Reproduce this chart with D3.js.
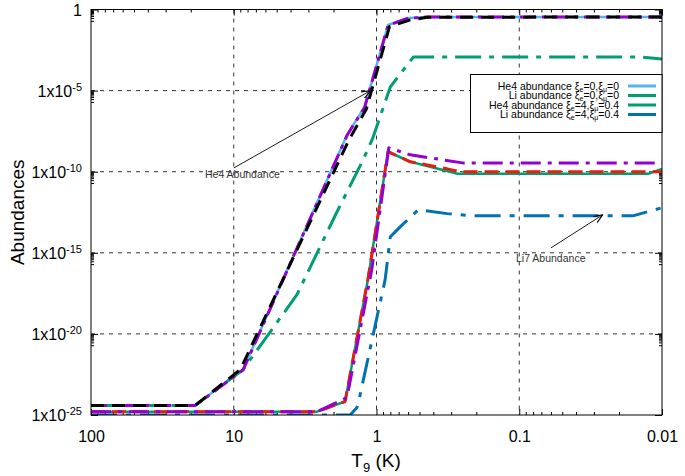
<!DOCTYPE html>
<html><head><meta charset="utf-8">
<script src="https://cdn.jsdelivr.net/npm/d3@7"></script>
<style>body{margin:0;background:#fff} text{font-family:"Liberation Sans",Arial,sans-serif}</style>
</head><body><svg id="c" width="685" height="476"></svg>
<script>
// ---- data (T9 in K, abundances) ----
const he4LightBlueT = [100, 18.7, 8.6, 1.61, 1.21, 0.83, 0.60, 0.44, 0.01];
const he4LightBlueA = [3.8e-25, 3.8e-25, 6.3e-23, 1.86e-8, 1.0e-6, 0.11, 0.30, 0.35, 0.35];
const he4BlackT = [100, 18.7, 9.0, 1.56, 1.18, 0.81, 0.58, 0.44, 0.01];
const he4BlackA = [3.8e-25, 3.8e-25, 6.3e-23, 9.0e-9, 7.0e-7, 0.09, 0.23, 0.33, 0.35];
const he4PurpleT = [100, 18.7, 8.6, 1.61, 1.21, 0.83, 0.60, 0.44, 0.01];
const he4PurpleA = [3.8e-25, 3.8e-25, 6.0e-23, 1.7e-8, 9.5e-7, 0.105, 0.29, 0.34, 0.35];
const he4GreenT = [100, 18.7, 8.6, 3.61, 1.89, 1.24, 1.06, 0.80, 0.61, 0.55, 0.0143, 0.01];
const he4GreenA = [3.8e-25, 3.8e-25, 6.3e-23, 2.6e-18, 3.4e-13, 5.4e-10, 1.23e-8, 1.7e-5, 3.8e-4, 1.2e-3, 1.2e-3, 8.9e-4];
const liGreenT = [100, 2.61, 1.66, 1.15, 0.83, 0.58, 0.27, 0.0125, 0.01];
const liGreenA = [1.6e-25, 1.6e-25, 6.8e-25, 2.2e-17, 1.7e-9, 4.1e-10, 7.4e-11, 7.4e-11, 1.5e-10];
const liRedT = [100, 2.61, 1.66, 1.15, 0.83, 0.58, 0.32, 0.26, 0.01];
const liRedA = [1.6e-25, 1.6e-25, 6.8e-25, 2.2e-17, 1.7e-9, 4.1e-10, 1.5e-10, 9.8e-11, 9.8e-11];
const liPurpleT = [100, 2.61, 1.61, 1.08, 0.82, 0.58, 0.25, 0.01];
const liPurpleA = [1.6e-25, 1.6e-25, 1.2e-24, 9e-17, 2.95e-9, 1.1e-9, 3.5e-10, 3.5e-10];
const liBlueT = [100, 1.53, 1.37, 1.31, 0.87, 0.80, 0.68, 0.51, 0.32, 0.21, 0.016, 0.01];
const liBlueA = [1.0e-25, 1.0e-25, 2.9e-25, 1.4e-24, 2.2e-17, 9.8e-15, 4.1e-14, 4.5e-13, 2.6e-13, 1.9e-13, 1.9e-13, 6.0e-13];

const xTickValues = [100, 10, 1, 0.1, 0.01];
const xTickLabels = ["100", "10", "1", "0.1", "0.01"];
const yTickValues = [1, 1e-5, 1e-10, 1e-15, 1e-20, 1e-25];
const yTickExponents = ["", "-5", "-10", "-15", "-20", "-25"];

const legendLabels = [
  ["He4 abundance ", "e", "=0,", "μ", "=0"],
  ["Li abundance ", "e", "=0,", "μ", "=0"],
  ["He4 abundance  ", "e", "=4,", "μ", "=0.4"],
  ["Li abundance ", "e", "=4,", "μ", "=0.4"]
];
const legendColors = ["#56b4e9", "#009e73", "#009e73", "#0072b2"];

// ---- layout ----
const L = 91, R = 662, T = 9.5, B = 415;
const svg = d3.select("#c");
const x = d3.scaleLog().domain([100, 0.01]).range([L, R]);
const y = d3.scaleLog().domain([1e-25, 1]).range([B, T]);

svg.append("defs").append("clipPath").attr("id", "clip")
  .append("rect").attr("x", L).attr("y", T).attr("width", R - L).attr("height", B - T);

// grid
const gridX = [10, 1, 0.1];
const gridY = [1e-5, 1e-10, 1e-15, 1e-20];
const grid = svg.append("g").attr("stroke", "#333").attr("stroke-width", 1).attr("stroke-dasharray", "4,5");
gridX.forEach(v => grid.append("line").attr("x1", x(v)).attr("x2", x(v)).attr("y1", T).attr("y2", B));
gridY.forEach(v => grid.append("line").attr("y1", y(v)).attr("y2", y(v)).attr("x1", L).attr("x2", R));

// minor ticks
const xMinor = [];
[10, 1, 0.1, 0.01].forEach(d => { for (let m = 2; m <= 9; m++) xMinor.push(d * m); });
const yMinor = [];
[1, 1e-5, 1e-10, 1e-15, 1e-20, 1e-25].forEach(d => { for (let m = 2; m <= 9; m++) if (d * m / 10 >= 1e-25) yMinor.push(d * m / 10); });

function styleAxis(g) {
  g.select(".domain").remove();
  g.selectAll("line").attr("stroke", "#000").attr("stroke-width", 1);
}
svg.append("g").attr("transform", `translate(0,${B})`)
  .call(d3.axisBottom(x).tickValues(xMinor).tickSize(-3).tickSizeOuter(0).tickFormat(""))
  .call(styleAxis);
svg.append("g").attr("transform", `translate(0,${T})`)
  .call(d3.axisTop(x).tickValues(xMinor).tickSize(-3).tickSizeOuter(0).tickFormat(""))
  .call(styleAxis);
svg.append("g").attr("transform", `translate(${L},0)`)
  .call(d3.axisLeft(y).tickValues(yMinor).tickSize(-3).tickSizeOuter(0).tickFormat(""))
  .call(styleAxis);
svg.append("g").attr("transform", `translate(${R},0)`)
  .call(d3.axisRight(y).tickValues(yMinor).tickSize(-3).tickSizeOuter(0).tickFormat(""))
  .call(styleAxis);

// major axes
const xAxisG = svg.append("g").attr("transform", `translate(0,${B})`)
  .call(d3.axisBottom(x).tickValues(xTickValues).tickSize(-6).tickSizeOuter(0).tickPadding(16)
    .tickFormat((d, i) => xTickLabels[i]))
  .call(styleAxis);
xAxisG.selectAll("text").attr("font-size", 16).attr("fill", "#000")
  .attr("font-family", '"Liberation Sans",Arial,sans-serif');
svg.append("g").attr("transform", `translate(0,${T})`)
  .call(d3.axisTop(x).tickValues(xTickValues).tickSize(-6).tickSizeOuter(0).tickFormat(""))
  .call(styleAxis);
svg.append("g").attr("transform", `translate(${R},0)`)
  .call(d3.axisRight(y).tickValues(yTickValues).tickSize(-7).tickSizeOuter(0).tickFormat(""))
  .call(styleAxis);
const yAxisG = svg.append("g").attr("transform", `translate(${L},0)`)
  .call(d3.axisLeft(y).tickValues(yTickValues).tickSize(-7).tickSizeOuter(0).tickPadding(9)
    .tickFormat(() => ""))
  .call(styleAxis);
yAxisG.selectAll(".tick text").each(function (d, i) {
  const t = d3.select(this).attr("font-size", 16).attr("fill", "#000")
    .attr("font-family", '"Liberation Sans",Arial,sans-serif').attr("dy", "0.35em");
  t.text(null);
  if (yTickExponents[i] === "") { t.append("tspan").text("1"); }
  else {
    t.append("tspan").text("1x10");
    t.append("tspan").attr("font-size", 11).attr("dy", "-0.55em").text(yTickExponents[i]);
  }
});

// data lines
const series = [
  { t: he4LightBlueT, a: he4LightBlueA, c: "#56b4e9", d: null, w: 2.5 },
  { t: he4GreenT, a: he4GreenA, c: "#009e73", d: "26,8,5,8", w: 3 },
  { t: liGreenT, a: liGreenA, c: "#009e73", d: null, w: 2.5 },
  { t: liBlueT, a: liBlueA, c: "#0072b2", d: "26,9,5,9", w: 3 },
  { t: liRedT, a: liRedA, c: "#e51e10", d: "14,7", w: 3 },
  { t: liPurpleT, a: liPurpleA, c: "#9400d3", d: "20,7,4,7", w: 3 },
  { t: he4PurpleT, a: he4PurpleA, c: "#9400d3", d: "16,6,4,6", w: 3 },
  { t: he4BlackT, a: he4BlackA, c: "#000000", d: "13,8", w: 3 }
];
const line = d3.line().x(p => x(p[0])).y(p => y(p[1]));
const lines = svg.append("g").attr("clip-path", "url(#clip)");
series.forEach(s => {
  lines.append("path").datum(s.t.map((v, i) => [v, s.a[i]]))
    .attr("d", line).attr("fill", "none").attr("stroke", s.c).attr("stroke-width", s.w)
    .attr("stroke-dasharray", s.d).attr("stroke-linejoin", "round");
});

// border
svg.append("rect").attr("x", L).attr("y", T).attr("width", R - L).attr("height", B - T)
  .attr("fill", "none").attr("stroke", "#000").attr("stroke-width", 1);

// legend
const lg = svg.append("g");
lg.append("rect").attr("x", 470.5).attr("y", 74.5).attr("width", R - 470.5).attr("height", 58)
  .attr("fill", "#fff").attr("stroke", "#000").attr("stroke-width", 1);
legendLabels.forEach((parts, i) => {
  const yy = 86 + i * 9.5;
  const t = lg.append("text").attr("x", 619).attr("y", yy + 3.5).attr("text-anchor", "end")
    .attr("font-size", 10.5).attr("fill", "#000");
  t.append("tspan").text(parts[0] + "ξ");
  t.append("tspan").attr("font-size", 7).attr("dy", 2).text(parts[1]);
  t.append("tspan").attr("dy", -2).text(parts[2] + "ξ");
  t.append("tspan").attr("font-size", 7).attr("dy", 2).text(parts[3]);
  t.append("tspan").attr("dy", -2).text(parts[4]);
  lg.append("line").attr("x1", 628).attr("x2", 656).attr("y1", yy).attr("y2", yy)
    .attr("stroke", legendColors[i]).attr("stroke-width", 3);
});

// annotations
const defs = svg.select("defs");
defs.append("marker").attr("id", "arr").attr("viewBox", "0 0 10 10").attr("refX", 10).attr("refY", 5)
  .attr("markerWidth", 9).attr("markerHeight", 9).attr("markerUnits", "userSpaceOnUse").attr("orient", "auto")
  .append("path").attr("d", "M0,1 L10,5 L0,9").attr("fill", "none").attr("stroke", "#000").attr("stroke-width", 1.2);
const he4Arrow = [[10, 1.7e-10], [1.1, 1e-5]];
const li7Arrow = [[0.06, 2e-15], [0.026, 2.2e-13]];
svg.append("line").attr("x1", x(he4Arrow[0][0])).attr("y1", y(he4Arrow[0][1])).attr("x2", x(he4Arrow[1][0])).attr("y2", y(he4Arrow[1][1]))
  .attr("stroke", "#000").attr("stroke-width", 0.9).attr("marker-end", "url(#arr)");
svg.append("text").attr("x", 205).attr("y", 178).attr("font-size", 10.5).attr("fill", "#333").text("He4 Abundance");
svg.append("line").attr("x1", x(li7Arrow[0][0])).attr("y1", y(li7Arrow[0][1])).attr("x2", x(li7Arrow[1][0])).attr("y2", y(li7Arrow[1][1]))
  .attr("stroke", "#000").attr("stroke-width", 0.9).attr("marker-end", "url(#arr)");
svg.append("text").attr("x", 516).attr("y", 262).attr("font-size", 10.5).attr("fill", "#333").text("Li7 Abundance");

// axis titles
svg.append("text").attr("transform", `translate(24,${(T + B) / 2}) rotate(-90)`).attr("text-anchor", "middle")
  .attr("font-size", 19).text("Abundances");
const xt = svg.append("text").attr("x", 376).attr("y", 467).attr("text-anchor", "middle").attr("font-size", 19);
xt.append("tspan").text("T");
xt.append("tspan").attr("font-size", 13).attr("dy", 5).text("9");
xt.append("tspan").attr("dy", -5).text(" (K)");
</script></body></html>
